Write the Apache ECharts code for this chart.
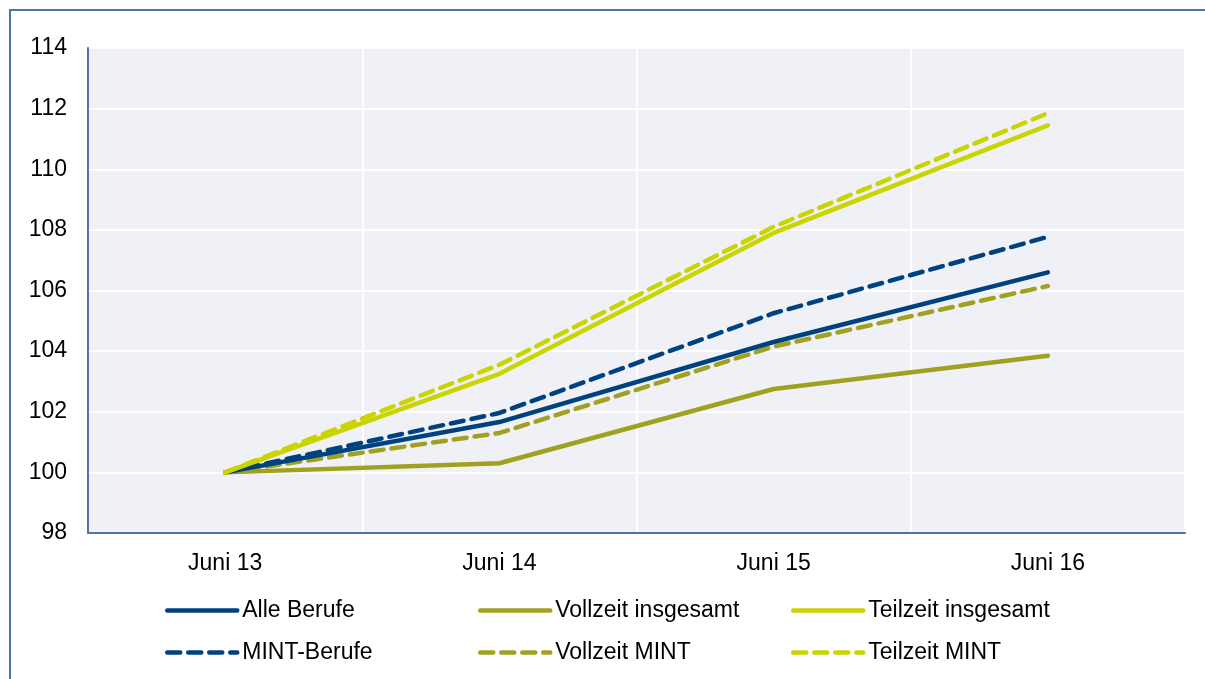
<!DOCTYPE html>
<html>
<head>
	<meta charset="utf-8">
	<title>Beschäftigung Index</title>
	<script src="https://cdn.jsdelivr.net/npm/echarts@6/dist/echarts.min.js"></script>
	<style>
		html, body { margin: 0; padding: 0; background: #fff; }
		#frame { position: absolute; left: 9px; top: 9px; width: 1300px; height: 800px; border-left: 2px solid #5272ab; border-top: 2px solid #5272ab; }
		#main { position: absolute; left: 0; top: 0; width: 1205px; height: 679px; }
	</style>
</head>
<body>
<div id="frame"></div>
<div id="main"></div>
<script type="text/javascript">
// Daten (Index Juni 13 = 100)
var categories = ["Juni 13", "Juni 14", "Juni 15", "Juni 16"];
var alleBerufe = [100, 101.66, 104.3, 106.6];
var vollzeitInsgesamt = [100, 100.3, 102.75, 103.85];
var teilzeitInsgesamt = [100, 103.25, 107.9, 111.45];
var mintBerufe = [100, 101.96, 105.25, 107.77];
var vollzeitMint = [100, 101.3, 104.15, 106.15];
var teilzeitMint = [100, 103.55, 108.1, 111.85];

var blau = '#00427f';
var oliv = '#a0a021';
var gelb = '#c9d400';
var dash = [13, 8];

function mkSeries(name, data, color, dashed) {
	return {
		name: name,
		type: 'line',
		data: data,
		symbol: 'none',
		showSymbol: false,
		lineStyle: { color: color, width: 4.5, type: dashed ? dash : 'solid', cap: 'round', join: 'round' },
		itemStyle: { color: color }
	};
}

// eine Legende pro Eintrag, damit die Spalten sauber stehen
function mkLegend(left, top, name) {
	return {
		left: left,
		top: top,
		itemWidth: 70,
		itemHeight: 14,
		itemStyle: { opacity: 0 },
		lineStyle: { width: 4.5 },
		textStyle: { fontFamily: 'Liberation Sans, Arial', fontSize: 23, color: '#000' },
		data: [name]
	};
}

var myChart = echarts.init(document.getElementById('main'));

var option = {
	backgroundColor: 'transparent',
	animation: false,
	grid: {
		left: 88, top: 48, right: 20, bottom: 146,
		show: true, backgroundColor: '#f0f1f6', borderWidth: 0
	},
	legend: [
		mkLegend(160, 594, 'Alle Berufe'),
		mkLegend(160, 636, 'MINT-Berufe'),
		mkLegend(473, 594, 'Vollzeit insgesamt'),
		mkLegend(473, 636, 'Vollzeit MINT'),
		mkLegend(786, 594, 'Teilzeit insgesamt'),
		mkLegend(786, 636, 'Teilzeit MINT')
	],
	xAxis: {
		type: 'category',
		data: categories,
		boundaryGap: true,
		axisLine: { lineStyle: { color: '#5272ab', width: 2 } },
		axisTick: { show: false },
		axisLabel: { color: '#000', fontFamily: 'Liberation Sans, Arial', fontSize: 23, margin: 19 },
		splitLine: { show: true, lineStyle: { color: '#fff', width: 2 } }
	},
	yAxis: {
		type: 'value',
		min: 98, max: 114, interval: 2,
		axisLine: { show: true, lineStyle: { color: '#5272ab', width: 2 } },
		axisTick: { show: false },
		axisLabel: { color: '#000', fontFamily: 'Liberation Sans, Arial', fontSize: 23, margin: 21 },
		splitLine: { show: true, lineStyle: { color: '#fff', width: 2 } }
	},
	series: [
		mkSeries('Vollzeit insgesamt', vollzeitInsgesamt, oliv, false),
		mkSeries('Vollzeit MINT', vollzeitMint, oliv, true),
		mkSeries('Alle Berufe', alleBerufe, blau, false),
		mkSeries('MINT-Berufe', mintBerufe, blau, true),
		mkSeries('Teilzeit insgesamt', teilzeitInsgesamt, gelb, false),
		mkSeries('Teilzeit MINT', teilzeitMint, gelb, true)
	]
};

myChart.setOption(option);
</script>
</body>
</html>
